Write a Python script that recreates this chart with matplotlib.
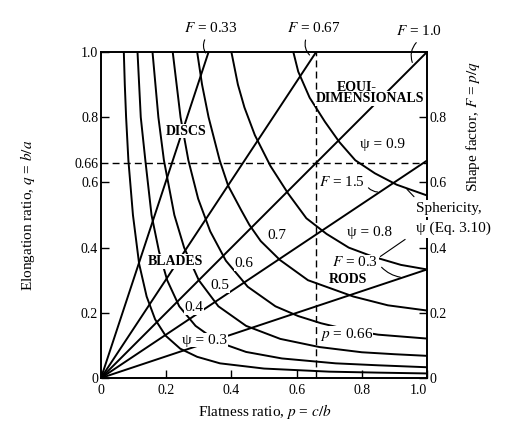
import matplotlib
matplotlib.use("Agg")
import matplotlib.pyplot as plt

plt.rcParams.update({
    "font.family": ["Liberation Serif", "DejaVu Serif"],
    "mathtext.fontset": "stix",
    "font.size": 10,
    "axes.linewidth": 1.4,
})

# ── data (p = c/b, q = b/a) ──────────────────────────────────────────────────
# shape factor lines F = p/q, from the origin to where they leave the box
f_names = ["0.33", "0.67", "1.0", "1.5", "3"]
f_end_p = [0.33, 0.66, 1.0, 1.0, 1.0]
f_end_q = [1.0, 1.0, 1.0, 0.667, 0.333]

# sphericity curves psi
psi_03 = [(0.07, 1.0), (0.073, 0.9), (0.077, 0.8), (0.084, 0.668), (0.098, 0.5),
          (0.117, 0.35), (0.14, 0.25), (0.166, 0.18), (0.198, 0.13), (0.243, 0.09),
          (0.295, 0.065), (0.365, 0.045), (0.5, 0.029), (0.7, 0.0195),
          (0.85, 0.0165), (1.0, 0.014)]
psi_04 = [(0.112, 1.0), (0.122, 0.8), (0.136, 0.668), (0.155, 0.5), (0.178, 0.388),
          (0.203, 0.3), (0.24, 0.22), (0.29, 0.16), (0.36, 0.11), (0.445, 0.08),
          (0.555, 0.06), (0.72, 0.045), (0.85, 0.039), (1.0, 0.033)]
psi_05 = [(0.158, 1.0), (0.176, 0.8), (0.193, 0.668), (0.225, 0.5), (0.255, 0.4),
          (0.30, 0.30), (0.36, 0.22), (0.445, 0.16), (0.55, 0.12), (0.67, 0.095),
          (0.8, 0.079), (0.9, 0.073), (1.0, 0.068)]
psi_06 = [(0.22, 1.0), (0.244, 0.8), (0.268, 0.668), (0.298, 0.55), (0.335, 0.45),
          (0.383, 0.36), (0.45, 0.28), (0.535, 0.22), (0.605, 0.19), (0.675, 0.168),
          (0.75, 0.15), (0.85, 0.133), (1.0, 0.121)]
psi_07 = [(0.295, 1.0), (0.31, 0.9), (0.33, 0.8), (0.364, 0.668), (0.39, 0.59),
          (0.43, 0.515), (0.455, 0.47), (0.49, 0.42), (0.549, 0.362), (0.635, 0.30),
          (0.774, 0.25), (0.88, 0.223), (1.0, 0.207)]
psi_08 = [(0.40, 1.0), (0.42, 0.90), (0.44, 0.83), (0.472, 0.745), (0.52, 0.65),
          (0.574, 0.566), (0.63, 0.49), (0.692, 0.442), (0.76, 0.40), (0.835, 0.372),
          (0.92, 0.347), (1.0, 0.333)]
psi_09 = [(0.59, 1.0), (0.605, 0.94), (0.64, 0.86), (0.687, 0.786), (0.731, 0.724),
          (0.78, 0.668), (0.84, 0.628), (0.907, 0.593), (1.0, 0.56)]

p_bound = 0.66
q_bound = 0.66

left_ticks = [0, 0.2, 0.4, 0.6, 0.66, 0.8, 1.0]
left_labels = ["0", "0.2", "0.4", "0.6", "0.66", "0.8", "1.0"]
bottom_ticks = [0, 0.2, 0.4, 0.6, 0.8, 1.0]
bottom_labels = ["0", "0.2", "0.4", "0.6", "0.8", "1.0"]
right_ticks = [0, 0.2, 0.4, 0.6, 0.8]
right_labels = ["0", "0.2", "0.4", "0.6", "0.8"]

# ── figure ──────────────────────────────────────────────────────────────────
fig = plt.figure(figsize=(5.14, 4.36), dpi=100)
ax = fig.add_axes([0.1965, 0.133, 0.6342, 0.7477])
ax2 = ax.twinx()
ax.set_zorder(ax2.get_zorder() + 1)
ax.patch.set_visible(False)

LW = 1.4
for pe, qe in zip(f_end_p, f_end_q):
    ax.plot([0, pe], [0, qe], color="black", lw=LW, solid_capstyle="butt")

for curve in [psi_03, psi_04, psi_05, psi_06, psi_07, psi_08, psi_09]:
    ps, qs = zip(*curve)
    ax.plot(ps, qs, color="black", lw=LW)

ax.axhline(q_bound, color="black", lw=1.0, ls=(0, (5, 3)))
ax.axvline(p_bound, color="black", lw=1.0, ls=(0, (5, 3)))

ax.set_xlim(0, 1)
ax.set_ylim(0, 1)
ax.set_xticks(bottom_ticks)
ax.set_xticklabels(bottom_labels)
ax.set_yticks(left_ticks)
ax.set_yticklabels(left_labels)
ax.tick_params(direction="in", length=6, width=1.0, labelsize=10, pad=2)
ax.tick_params(axis="x", pad=4)
ax.yaxis.get_major_ticks()[4].tick1line.set_visible(False)
ax.get_xticklabels()[-1].set_ha("right")

ax2.set_ylim(0, 1)
ax2.set_yticks(right_ticks)
ax2.set_yticklabels(right_labels)
ax2.tick_params(direction="in", length=6, width=1.0, labelsize=10, pad=2)
for s in ax2.spines.values():
    s.set_visible(False)

# axis titles
fig.text(0.053, 0.507, "Elongation ratio, $q$ = $b/a$", rotation=90,
         ha="center", va="center", fontsize=11)
fig.text(0.516, 0.057, "Flatness ratio, $p$ = $c/b$", ha="center", va="center",
         fontsize=11)
fig.text(0.92, 0.71, "Shape factor, $F$ = $p/q$", rotation=90,
         ha="center", va="center", fontsize=11)

# top F labels with curved leaders
top = [("0.33", (0.338, 1.074), (0.322, 1.045), (0.326, 0.99)),
       ("0.67", (0.652, 1.074), (0.630, 1.045), (0.646, 0.985)),
       ("1.0", (0.977, 1.064), (0.973, 1.035), (0.958, 0.96))]
for name, tpos, a, b in top:
    ax.text(*tpos, f"$F$ = {name}", ha="center", va="center", fontsize=11)
    ax.annotate("", xy=b, xytext=a, annotation_clip=False,
                arrowprops=dict(arrowstyle="-", lw=0.8, color="black",
                                connectionstyle="arc3,rad=0.35"))

white = dict(facecolor="white", edgecolor="none", pad=0.5)

# region names
ax.text(0.26, 0.757, "DISCS", ha="center", va="center", fontsize=10,
        fontweight="bold", bbox=white, zorder=5)
ax.text(0.785, 0.893, "EQUI-", ha="center", va="center", fontsize=10,
        fontweight="bold", bbox=white, zorder=5)
ax.text(0.826, 0.857, "DIMENSIONALS", ha="center", va="center", fontsize=10,
        fontweight="bold", bbox=white, zorder=5)
ax.text(0.227, 0.357, "BLADES", ha="center", va="center", fontsize=10,
        fontweight="bold", bbox=white, zorder=5)
ax.text(0.759, 0.303, "RODS", ha="center", va="center", fontsize=10,
        fontweight="bold", bbox=white, zorder=5)

# sphericity values on the curves
psi_text = [("ψ = 0.3", 0.319, 0.116), ("0.4", 0.286, 0.217), ("0.5", 0.365, 0.283),
            ("0.6", 0.439, 0.352), ("0.7", 0.539, 0.436), ("ψ = 0.8", 0.823, 0.446),
            ("ψ = 0.9", 0.864, 0.717)]
for s, x, y in psi_text:
    ax.text(x, y, s, ha="center", va="center", fontsize=11, bbox=white, zorder=5)

ax.text(0.739, 0.602, "$F$ = 1.5", ha="center", va="center", fontsize=11,
        bbox=white, zorder=5)
ax.annotate("", xy=(0.857, 0.571), xytext=(0.815, 0.59),
            arrowprops=dict(arrowstyle="-", lw=0.8, color="black",
                            connectionstyle="arc3,rad=0.3"))
ax.text(0.78, 0.355, "$F$ = 0.3", ha="center", va="center", fontsize=11,
        bbox=white, zorder=5)
ax.annotate("", xy=(0.927, 0.308), xytext=(0.855, 0.346),
            arrowprops=dict(arrowstyle="-", lw=0.8, color="black",
                            connectionstyle="arc3,rad=0.2"))
ax.text(0.752, 0.133, "$p$ = 0.66", ha="center", va="center", fontsize=11,
        bbox=dict(facecolor="white", edgecolor="none", pad=0.3), zorder=5)

# sphericity callout on the right edge
ax.text(0.965, 0.52, "Sphericity,", ha="left", va="center", fontsize=11,
        bbox=dict(facecolor="white", edgecolor="none", pad=1.5), zorder=6,
        clip_on=False)
ax.text(0.965, 0.458, "ψ (Eq. 3.10)", ha="left", va="center", fontsize=11,
        bbox=dict(facecolor="white", edgecolor="none", pad=1.5), zorder=6,
        clip_on=False)
ax.annotate("", xy=(0.933, 0.585), xytext=(0.966, 0.55), annotation_clip=False,
            arrowprops=dict(arrowstyle="-", lw=0.8, color="black"))
ax.annotate("", xy=(0.85, 0.368), xytext=(0.94, 0.43), annotation_clip=False,
            arrowprops=dict(arrowstyle="-", lw=0.8, color="black"))

fig.savefig("out.png", dpi=100)
